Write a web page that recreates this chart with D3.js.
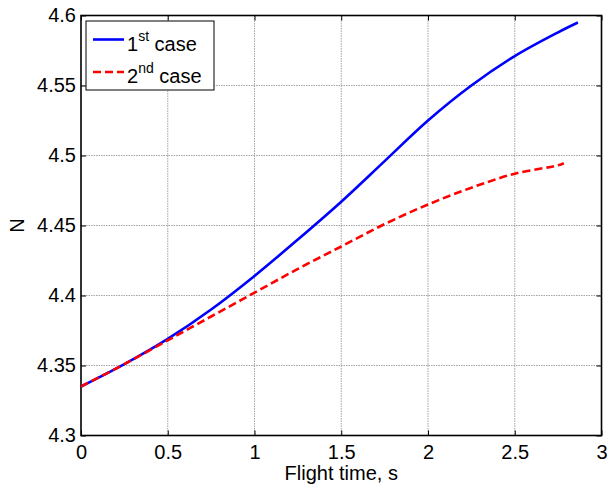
<!DOCTYPE html>
<html>
<head>
    <meta charset="UTF-8">
    <title>N vs flight time</title>
    <script src="https://d3js.org/d3.v7.min.js"></script>
    <style>
        body { margin: 0; background: #fff; }
        svg text { font-family: "Liberation Sans", Arial, sans-serif; fill: #000; }
        .grid line { stroke: #8c8c8c; stroke-width: 0.8; stroke-dasharray: 1.5,1; }
    </style>
</head>
<body>
    <svg width="610" height="487"></svg>
    <script>
        // values
        var time1 = [0, 0.25, 0.5, 0.75, 1.0, 1.25, 1.5, 1.75, 2.0, 2.25, 2.5, 2.75, 2.864];
        var case1 = [4.335, 4.351, 4.369, 4.390, 4.414, 4.440, 4.467, 4.496, 4.525, 4.550, 4.571, 4.588, 4.595];
        var time2 = [0, 0.25, 0.5, 0.75, 1.0, 1.25, 1.5, 1.75, 2.0, 2.25, 2.5, 2.75, 2.783];
        var case2 = [4.335, 4.351, 4.368, 4.385, 4.402, 4.419, 4.435, 4.451, 4.465, 4.477, 4.487, 4.493, 4.4945];
        var xTicks = [0, 0.5, 1, 1.5, 2, 2.5, 3];
        var yTicks = [4.3, 4.35, 4.4, 4.45, 4.5, 4.55, 4.6];

        var svg = d3.select("svg");
        var pLeft = 81, pRight = 601.5, pTop = 15.5, pBottom = 435.5;

        var x = d3.scaleLinear().domain([0, 3]).range([pLeft, pRight]);
        var y = d3.scaleLinear().domain([4.3, 4.6]).range([pBottom, pTop]);

        // grid
        var grid = svg.append("g").attr("class", "grid");
        grid.selectAll(".gx").data(xTicks.slice(1, -1)).enter().append("line")
            .attr("x1", d => x(d)).attr("x2", d => x(d))
            .attr("y1", pTop).attr("y2", pBottom);
        grid.selectAll(".gy").data(yTicks.slice(1, -1)).enter().append("line")
            .attr("x1", pLeft).attr("x2", pRight)
            .attr("y1", d => y(d)).attr("y2", d => y(d));

        // axes, ticks inward on all four sides
        var fmt = d3.format("");
        svg.append("g").attr("transform", "translate(0," + pBottom + ")")
            .call(d3.axisBottom(x).tickValues(xTicks).tickSizeInner(-5).tickSizeOuter(0).tickPadding(9).tickFormat(fmt))
            .call(g => g.select(".domain").remove())
            .selectAll("text").style("font-size", "20px").attr("dy", "0.71em");
        svg.append("g").attr("transform", "translate(" + pLeft + ",0)")
            .call(d3.axisLeft(y).tickValues(yTicks).tickSizeInner(-5).tickSizeOuter(0).tickPadding(5).tickFormat(fmt))
            .call(g => g.select(".domain").remove())
            .selectAll("text").style("font-size", "20px");
        svg.append("g").attr("transform", "translate(0," + pTop + ")")
            .call(d3.axisTop(x).tickValues(xTicks).tickSizeInner(-5).tickSizeOuter(0).tickFormat(""))
            .call(g => g.select(".domain").remove());
        svg.append("g").attr("transform", "translate(" + pRight + ",0)")
            .call(d3.axisRight(y).tickValues(yTicks).tickSizeInner(-5).tickSizeOuter(0).tickFormat(""))
            .call(g => g.select(".domain").remove());

        svg.append("rect")
            .attr("x", pLeft).attr("y", pTop)
            .attr("width", pRight - pLeft).attr("height", pBottom - pTop)
            .attr("fill", "none").attr("stroke", "#000").attr("stroke-width", 1.6);

        // axis labels
        svg.append("text").attr("x", x(1.5)).attr("y", 480)
            .attr("text-anchor", "middle").style("font-size", "20px")
            .text("Flight time, s");
        svg.append("text").attr("transform", "translate(24," + y(4.45) + ") rotate(-90)")
            .attr("text-anchor", "middle").style("font-size", "20px")
            .text("N");

        // series
        var line = d3.line().curve(d3.curveCatmullRom);
        svg.append("path")
            .attr("d", line(time1.map((t, i) => [x(t), y(case1[i])])))
            .attr("fill", "none").attr("stroke", "#0000ff").attr("stroke-width", 2.6);
        svg.append("path")
            .attr("d", line(time2.map((t, i) => [x(t), y(case2[i])])))
            .attr("fill", "none").attr("stroke", "#ff0000").attr("stroke-width", 2.6)
            .attr("stroke-dasharray", "8,4");

        // legend
        var lg = svg.append("g");
        lg.append("rect").attr("x", 86).attr("y", 21).attr("width", 128).attr("height", 69)
            .attr("fill", "#fff").attr("stroke", "#000").attr("stroke-width", 1);
        var entries = [
            { sup: "st", color: "#0000ff", dash: null, ly: 39.5 },
            { sup: "nd", color: "#ff0000", dash: "8,4", ly: 72 }
        ];
        entries.forEach(function (e, i) {
            lg.append("line").attr("x1", 93).attr("x2", 124)
                .attr("y1", e.ly).attr("y2", e.ly)
                .attr("stroke", e.color).attr("stroke-width", 2.6)
                .attr("stroke-dasharray", e.dash);
            var t = lg.append("text").attr("x", 127).attr("y", e.ly + 11).style("font-size", "20px");
            t.append("tspan").text(String(i + 1));
            t.append("tspan").attr("dy", -10).style("font-size", "14px").text(e.sup);
            t.append("tspan").attr("dy", 10).text(" case");
        });
    </script>
</body>
</html>
